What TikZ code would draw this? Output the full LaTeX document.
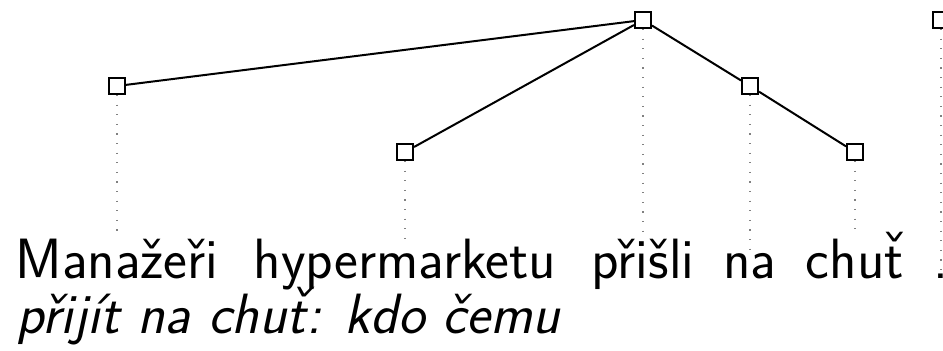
\documentclass[tikz,border=0pt]{standalone}
\usepackage{fontspec}
\usepackage{tikz}

% t with a caron set on top of it
\newcommand{\tcaron}{{\accent"02C7 t}}

\begin{document}
\begin{tikzpicture}[x=0.5pt, y=0.5pt,
      tok/.style={draw, line width=1pt, fill=white,
                  minimum size=8pt, inner sep=0pt},
      word/.style={anchor=base, inner sep=0pt,
                   font=\fontsize{28.4}{34}\selectfont\sffamily},
      dep/.style={line width=1pt},
      proj/.style={gray, line width=0.6pt, dash pattern=on 0.6pt off 4.2pt}]
    \useasboundingbox (0,0) rectangle (943,350);
    % tree nodes
    \node[tok] (prisli)   at (643,330) {};
    \node[tok] (dot)      at (941,330) {};
    \node[tok] (manazeri) at (117,264) {};
    \node[tok] (na)       at (750,264) {};
    \node[tok] (hyper)    at (405,198) {};
    \node[tok] (chut)     at (855,198) {};
    % sentence
    \node[word] (manazeri-w) at (117,72) {Manažeři};
    \node[word] (hyper-w)    at (405,72) {hypermarketu};
    \node[word] (prisli-w)   at (643,72) {přišli};
    \node[word] (na-w)       at (750,72) {na};
    \node[word] (chut-w)     at (855,72) {chu\tcaron};
    \node[word] (dot-w)      at (941,72) {.};
    \node[word, anchor=base west, font=\fontsize{28.4}{34}\selectfont\sffamily\itshape]
                             (gloss)      at (16,17) {přijít na chu\tcaron: kdo čemu};
    % edges
    \draw[dep] (prisli) -- (manazeri);
    \draw[dep] (prisli) -- (hyper);
    \draw[dep] (prisli) -- (na);
    \draw[dep] (na)     -- (chut);
    % projections down to the words
    \draw[proj] (manazeri) -- (manazeri-w);
    \draw[proj] (hyper)    -- (hyper-w);
    \draw[proj] (prisli)   -- (prisli-w);
    \draw[proj] (na)       -- (na-w);
    \draw[proj] (chut)     -- (chut-w);
    \draw[proj] (dot)      -- (dot-w);
  \end{tikzpicture}
\end{document}
